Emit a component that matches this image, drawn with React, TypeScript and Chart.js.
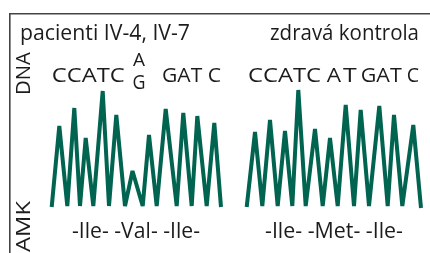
import React, { useEffect, useRef } from "react";
import { Chart, registerables } from "chart.js";

Chart.register(...registerables);

// Chromatogram traces (position along read, signal intensity)
const patientX = [51.7, 59.3, 67.3, 74.3, 80, 85.7, 93.3, 102.7, 109, 116.3, 125, 132.5, 142.7, 149, 156.7, 165.7, 176.7, 183.3, 191.7, 197.3, 206.7, 214.3, 221];
const patientY = [-1, 80, 0, 98, 0, 68, 0, 115, 0, 91, 0, 35, 0, 71, 0, 97, 0, 93, 0, 90, 0, 83, -1];
const controlX = [246.7, 255, 262.3, 270, 277.7, 285, 292.3, 298.3, 305.7, 315, 322.7, 330, 337.7, 345.7, 354, 360.7, 369, 379.3, 387.7, 394, 402.3, 413.3, 421];
const controlY = [-1, 74, 0, 86, 0, 75, 0, 116, 0, 77, 0, 68, 0, 101, 0, 96, 0, 100, 0, 91, 0, 81, -2];

// Text
const groupLabels = ["pacienti IV-4, IV-7", "zdravá kontrola"];
const axisLabels = ["DNA", "AMK"];
const patientBases = ["CCATC", "A", "G", "GAT C"];
const controlBases = ["CCATC", "A", "T", "GAT", "C"];
const aminoAcids = ["-Ile- -Val- -Ile-", "-Ile- -Met- -Ile-"];

const FONT = '"Open Sans", "Noto Sans", sans-serif';
const TRACE = "#006450";

const labelPlugin = {
  id: "figureLabels",
  afterDraw(chart: any) {
    const ctx: CanvasRenderingContext2D = chart.ctx;
    ctx.save();
    // frame
    ctx.strokeStyle = "#444";
    ctx.lineWidth = 1.6;
    ctx.beginPath();
    ctx.moveTo(9.8, 253);
    ctx.lineTo(9.8, 13.8);
    ctx.lineTo(430, 13.8);
    ctx.stroke();

    ctx.fillStyle = "#1c1c1c";
    ctx.textBaseline = "alphabetic";
    const put = (t: string, x: number, y: number, size: number, w?: number, rot?: boolean) => {
      ctx.save();
      ctx.font = `${size}px ${FONT}`;
      ctx.translate(x, y);
      if (rot) ctx.rotate(-Math.PI / 2);
      if (w) {
        const m = ctx.measureText(t).width;
        ctx.scale(w / m, 1);
      }
      ctx.textAlign = "left";
      ctx.fillText(t, 0, 0);
      ctx.restore();
    };

    put(groupLabels[0], 20, 40, 21, 170);
    put(groupLabels[1], 270, 40, 21, 149);

    put(axisLabels[0], 30, 95, 20, 43, true);
    put(axisLabels[1], 29.5, 252, 20, 51, true);

    put(patientBases[0], 51.7, 81.7, 20.5, 73);
    put(patientBases[1], 133, 65.5, 17.5, 12);
    put(patientBases[2], 132.5, 88.5, 20, 13);
    put(patientBases[3], 162, 81.7, 20.5, 59);

    put(controlBases[0], 248, 81.7, 20.5, 73);
    put(controlBases[1], 326.7, 81.7, 20.5, 14.3);
    put(controlBases[2], 343, 81.7, 20.5, 13.7);
    put(controlBases[3], 360.7, 81.7, 20.5, 41);
    put(controlBases[4], 406.7, 81.7, 20.5, 12.3);

    put(aminoAcids[0], 72, 238, 21, 128);
    put(aminoAcids[1], 265, 238, 21, 138);
    ctx.restore();
  },
};

export default function App() {
  const ref = useRef<HTMLCanvasElement | null>(null);
  useEffect(() => {
    if (!ref.current) return;
    const chart = new Chart(ref.current, {
      type: "line",
      data: {
        datasets: [
          {
            label: "pacienti",
            data: patientX.map((x, i) => ({ x, y: patientY[i] })),
            borderColor: TRACE,
            borderWidth: 4,
            borderJoinStyle: "bevel",
            pointRadius: 0,
            tension: 0,
            fill: false,
          },
          {
            label: "kontrola",
            data: controlX.map((x, i) => ({ x, y: controlY[i] })),
            borderColor: TRACE,
            borderWidth: 4,
            borderJoinStyle: "bevel",
            pointRadius: 0,
            tension: 0,
            fill: false,
          },
        ],
      },
      options: {
        responsive: false,
        animation: false,
        layout: { padding: 0, autoPadding: false },
        plugins: { legend: { display: false }, tooltip: { enabled: false } },
        scales: {
          x: { type: "linear", display: false, min: 0, max: 430 },
          y: { type: "linear", display: false, min: -47, max: 206 },
        },
      },
      plugins: [labelPlugin],
    });
    return () => chart.destroy();
  }, []);
  return (
    <div style={{ position: "fixed", left: 0, top: 0, width: 430, height: 253, background: "#fff" }}>
      <canvas ref={ref} width={430} height={253} style={{ display: "block" }} />
    </div>
  );
}
